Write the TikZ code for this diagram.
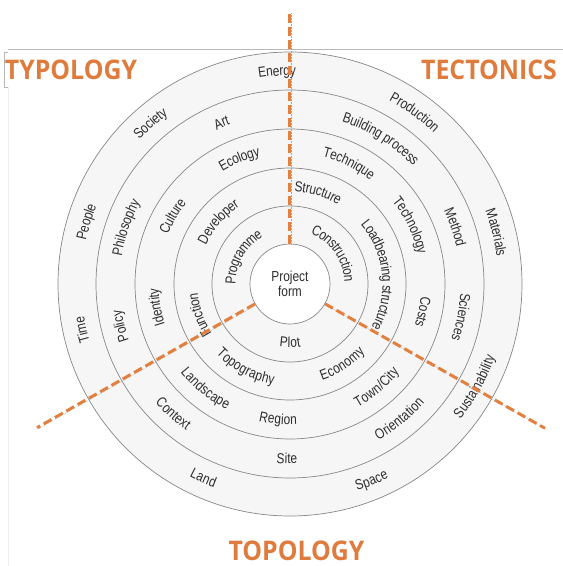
\documentclass[tikz,border=0pt]{standalone}
\usepackage{fontspec}
\setmainfont{Liberation Sans}[FakeStretch=0.82]
\newfontfamily\titlefont{Open Sans}[FakeStretch=0.92]
\usepackage{tikz}
\usetikzlibrary{decorations.text}

\definecolor{cutorange}{RGB}{226,128,64}
\definecolor{titleorange}{RGB}{223,124,61}
\definecolor{ringgrey}{RGB}{246,246,246}
\definecolor{linegrey}{RGB}{135,135,135}
\definecolor{labelgrey}{RGB}{45,45,45}

\newcommand{\labelfont}{\fontsize{14.5}{16}\selectfont}
% ring label, letters standing outwards (ringout) or inwards (ringin)
\newcommand{\ringout}[3]{\path[ringlabel={#3}] (#2+60:#1) arc[start angle=#2+60, end angle=#2-60, radius=#1];}
\newcommand{\ringin}[3]{\path[ringlabel={#3}] (#2-60:#1) arc[start angle=#2-60, end angle=#2+60, radius=#1];}

\begin{document}
\begin{tikzpicture}[x=1pt, y=1pt,
  ring/.style={draw=linegrey, line width=0.7pt, fill=ringgrey},
  core/.style={circle, draw=linegrey, line width=0.7pt, fill=white, minimum size=80pt, inner sep=0pt, align=center, font=\labelfont, text=labelgrey},
  ringlabel/.style={decorate, decoration={text along path, text align=center, raise=-4.5pt, text color=labelgrey, text={|\labelfont|#1}}},
  title/.style={font=\titlefont\bfseries\fontsize{27}{30}\selectfont, text=titleorange, inner sep=0pt},
  cut/.style={draw=cutorange, line width=3pt, dash pattern=on 9pt off 4pt},
  cut shadow/.style={draw=gray!70, densely dotted, line width=0.5pt, transform canvas={shift={(1.2pt,-1.2pt)}}},
  frame/.style={draw=gray!55, line width=0.6pt}]

\useasboundingbox (-290,284) rectangle (273,-282);

% frame lines of the original sheet
\draw[frame] (-282,235) -- (273,235);
\draw[frame] (-282,232) -- (-286,232) -- (-286,197) -- (-282,197);
\draw[draw=gray!12, line width=0.6pt] (-282,197) -- (-282,-282);

% rings
\foreach \r in {232,194,155,116,78}
  \draw[ring] (0,0) circle[radius=\r];
\node[core] (core) at (0,0) {Project\\[-1pt]form};

% ring 1
\ringout{59}{150}{Programme}
\ringout{59}{35}{Construction}
\ringin{59}{270}{Plot}

% ring 2
\ringout{97}{139}{Developer}
\ringout{97}{73}{Structure}
\ringout{97}{6}{Loadbearing structure}
\ringout{97}{199}{Function}
\ringin{97}{242}{Topography}
\ringin{97}{303}{Economy}

% ring 3
\ringout{136}{112}{Ecology}
\ringout{136}{150}{Culture}
\ringout{136}{190}{Identity}
\ringout{136}{64}{Technique}
\ringout{136}{26}{Technology}
\ringout{136}{348}{Costs}
\ringin{136}{231}{Landscape}
\ringin{136}{265}{Region}
\ringin{136}{310}{Town/City}

% ring 4
\ringout{175}{113}{Art}
\ringout{175}{161}{Philosophy}
\ringout{175}{194}{Policy}
\ringout{175}{58}{Building process}
\ringout{175}{19}{Method}
\ringout{175}{349}{Sciences}
\ringin{175}{228}{Context}
\ringin{175}{269}{Site}
\ringin{175}{309}{Orientation}

% ring 5
\ringout{213}{93.5}{Energy}
\ringout{213}{131}{Society}
\ringout{213}{163}{People}
\ringout{213}{192.5}{Time}
\ringout{213}{54}{Production}
\ringout{213}{14}{Materials}
\ringin{213}{246}{Land}
\ringin{213}{292.5}{Space}
\ringin{213}{331}{Sustainability}

% cuts between the three fields
\coordinate (north cut) at (90:272);
\coordinate (west cut) at (209.6:291);
\coordinate (east cut) at (330.5:293);
\foreach \c in {north cut, west cut, east cut} {
  \draw[cut shadow] (core) -- (\c);
  \draw[cut] (core) -- (\c);
}

\node[title] (typology) at (-219,214) {TYPOLOGY};
\node[title] (tectonics) at (199,214) {TECTONICS};
\node[title] (topology) at (6.5,-267) {TOPOLOGY};
\end{tikzpicture}
\end{document}
